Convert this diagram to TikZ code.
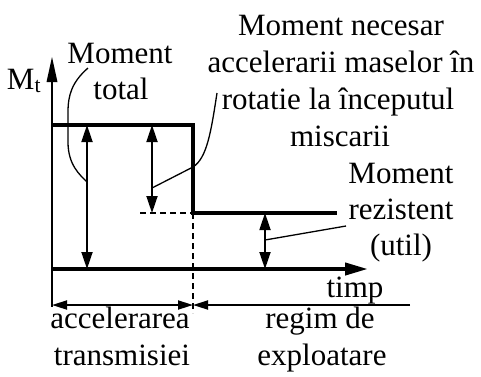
\documentclass[tikz,border=0pt]{standalone}
\usepackage{fontspec}
\setmainfont{Liberation Serif}
\usetikzlibrary{arrows.meta}
\tikzset{
  lbl/.style={anchor=base,inner sep=0pt,font=\fontsize{31}{37}\selectfont},
  thickln/.style={line width=4pt},
  dbl/.style={line width=1.8pt,{Triangle[length=17pt,width=11pt]}-{Triangle[length=17pt,width=11pt]}},
  dimboth/.style={line width=1.8pt,{Triangle[length=15pt,width=9pt]}-{Triangle[length=15pt,width=9pt]}},
  dimone/.style={line width=1.8pt,-{Triangle[length=15pt,width=9pt]}},
  leader/.style={line width=1.3pt},
  dashln/.style={line width=1.5pt,dash pattern=on 6pt off 4pt}
}
\begin{document}
\begin{tikzpicture}[x=1pt,y=-1pt]
\useasboundingbox (0,0) rectangle (481,376);
% key points
\coordinate (O) at (52,269);
\coordinate (Ytop) at (52,57);
\coordinate (Yb) at (52,80);
\coordinate (Yl) at (46.5,82);
\coordinate (Yr) at (57.5,82);
\coordinate (Xend) at (368,269);
\coordinate (A) at (52,125);
\coordinate (B) at (193,125);
\coordinate (C) at (193,213);
\coordinate (D) at (337,213);
\coordinate (Dl) at (140,213);
\coordinate (Dd) at (193,313);
\coordinate (T1) at (87,125);
\coordinate (T2) at (87,269);
\coordinate (N1) at (152,125);
\coordinate (N2) at (152,213);
\coordinate (R1) at (265,213);
\coordinate (R2) at (265,269);
\coordinate (E0) at (52,307);
\coordinate (L1) at (52,305);
\coordinate (L2) at (193,305);
\coordinate (L3) at (410,305);
% axes
\draw[line width=2.8pt] (O) -- (Yb);
\fill (Ytop) -- (Yl) -- (Yr) -- cycle;
\draw[line width=1.8pt] (O) -- (E0);
\draw[thickln,-{Triangle[length=23pt,width=12pt]}] (O) -- (Xend);
% step function
\draw[thickln,line join=miter] (A) -- (B) -- (C) -- (D);
% dashed
\draw[dashln] (Dl) -- (C);
\draw[dashln] (C) -- (Dd);
% double arrows
\draw[dbl] (T1) -- (T2);
\draw[dbl] (N1) -- (N2);
\draw[dbl] (R1) -- (R2);
% dimension line
\draw[dimboth] (L1) -- (L2);
\draw[dimone] (L3) -- (L2);
% texts
\node[lbl] (mt) at (24,89) {M\textsubscript{t}};
\node[lbl] (tot1) at (120,63) {Moment};
\node[lbl] (tot2) at (121,99) {total};
\node[lbl] (n1) at (341,35) {Moment necesar};
\node[lbl] (n2) at (341,72) {accelerarii maselor în};
\node[lbl] (n3) at (338,109) {rotatie la începutul};
\node[lbl] (n4) at (340,146) {miscarii};
\node[lbl] (r1) at (401,183) {Moment};
\node[lbl] (r2) at (401,219) {rezistent};
\node[lbl] (r3) at (401,255) {(util)};
\node[lbl] (timp) at (355,297) {timp};
\node[lbl] (a1) at (120,328) {accelerarea};
\node[lbl] (a2) at (122,365) {transmisiei};
\node[lbl] (e1) at (320,328) {regim de};
\node[lbl] (e2) at (322,365) {exploatare};
% leaders
\coordinate (lt0) at (88,68);
\coordinate (lt1) at (87,182);
\draw[leader] (lt0) .. controls (72,82) and (68,95) .. (68,112) -- (68,142) .. controls (68,165) and (80,175) .. (lt1);
\coordinate (ln0) at (152,188);
\coordinate (ln1) at (217,93);
\draw[leader] (ln0) -- (193,167) .. controls (207,158) and (211,132) .. (ln1);
\coordinate (lr0) at (265,240);
\coordinate (lr1) at (346,226);
\draw[leader] (lr0) -- (lr1);
\end{tikzpicture}
\end{document}
